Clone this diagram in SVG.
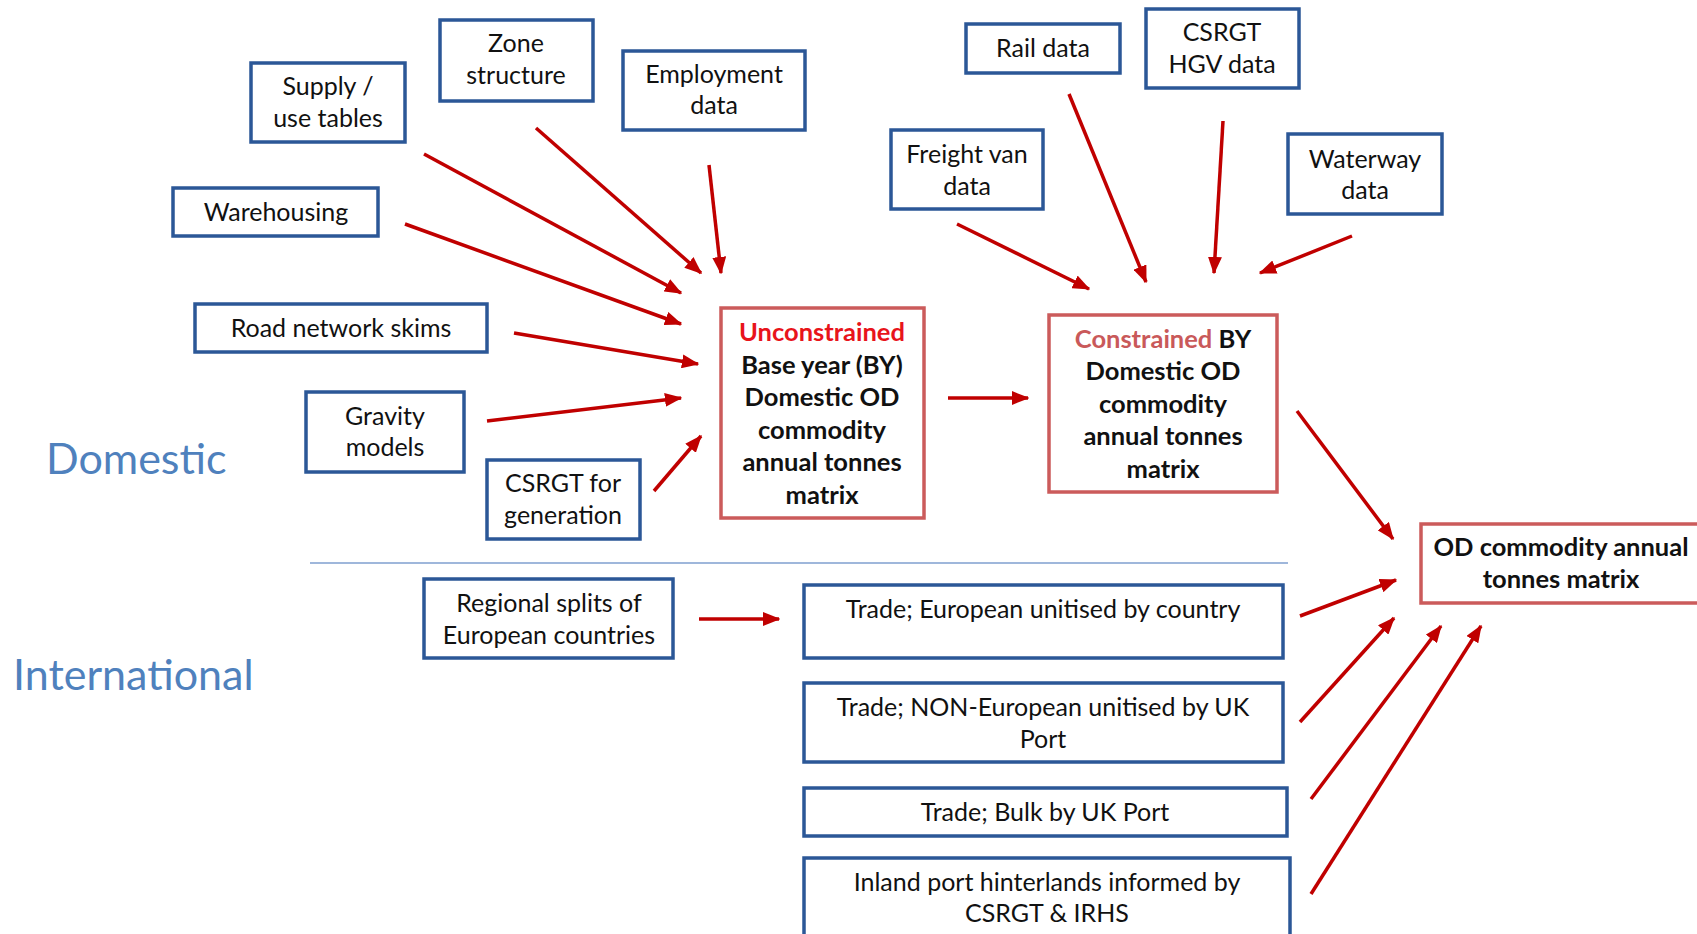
<svg xmlns="http://www.w3.org/2000/svg" width="1697" height="934" viewBox="0 0 1697 934">
<defs>
<style>
.b{fill:#fff;stroke:#2B5797;stroke-width:3.5}
.r{fill:#fff;stroke:#CB5B5B;stroke-width:3.5}
text{font-family:Lato,"Open Sans","Liberation Sans",sans-serif;font-size:25px;fill:#111;text-anchor:middle}
.bd{font-weight:bold;font-size:25.5px}
.lbl{font-size:43px;fill:#4F81BD;text-anchor:start}
.a{stroke:#C00000;stroke-width:3.5;fill:none;marker-end:url(#ah)}
</style>
<marker id="ah" viewBox="0 0 5 4" refX="4.6" refY="2" markerWidth="5" markerHeight="4" orient="auto">
<path d="M0,0 L5,2 L0,4 z" fill="#C00000"/>
</marker>
</defs>
<rect width="1697" height="934" fill="#fff"/>
<text class="lbl" x="46" y="474">Domestic</text>
<text class="lbl" x="13" y="690">International</text>
<line x1="310" y1="563" x2="1288" y2="563" stroke="#7F9FCF" stroke-width="1.5"/>
<g id="n-supply"><rect class="b" x="251" y="63" width="154" height="79"/><text x="328" y="95">Supply /</text><text x="328" y="127">use tables</text></g>
<g id="n-zone"><rect class="b" x="440" y="20" width="153" height="81"/><text x="516" y="52">Zone</text><text x="516" y="84">structure</text></g>
<g id="n-employment"><rect class="b" x="623" y="51" width="182" height="79"/><text x="714" y="83">Employment</text><text x="714" y="114">data</text></g>
<g id="n-warehousing"><rect class="b" x="173" y="188" width="205" height="48"/><text x="276" y="221">Warehousing</text></g>
<g id="n-road"><rect class="b" x="195" y="304" width="292" height="48"/><text x="341" y="337">Road network skims</text></g>
<g id="n-gravity"><rect class="b" x="306" y="392" width="158" height="80"/><text x="385" y="425">Gravity</text><text x="385" y="456">models</text></g>
<g id="n-csrgtgen"><rect class="b" x="487" y="460" width="153" height="79"/><text x="563" y="492">CSRGT for</text><text x="563" y="524">generation</text></g>
<g id="n-unconstrained"><rect class="r" x="721" y="308" width="203" height="210"/>
<text class="bd" x="822" y="341" style="fill:#E8141B">Unconstrained</text>
<text class="bd" x="822" y="374">Base year (BY)</text>
<text class="bd" x="822" y="406">Domestic OD</text>
<text class="bd" x="822" y="439">commodity</text>
<text class="bd" x="822" y="471">annual tonnes</text>
<text class="bd" x="822" y="504">matrix</text></g>
<g id="n-rail"><rect class="b" x="966" y="24" width="154" height="49"/><text x="1043" y="57">Rail data</text></g>
<g id="n-csrgthgv"><rect class="b" x="1146" y="9" width="153" height="79"/><text x="1222" y="41">CSRGT</text><text x="1222" y="73">HGV data</text></g>
<g id="n-van"><rect class="b" x="891" y="130" width="152" height="79"/><text x="967" y="163">Freight van</text><text x="967" y="195">data</text></g>
<g id="n-waterway"><rect class="b" x="1288" y="134" width="154" height="80"/><text x="1365" y="168">Waterway</text><text x="1365" y="199">data</text></g>
<g id="n-constrained"><rect class="r" x="1049" y="315" width="228" height="177"/>
<text class="bd" x="1163" y="348"><tspan style="fill:#C9595A">Constrained</tspan> BY</text>
<text class="bd" x="1163" y="380">Domestic OD</text>
<text class="bd" x="1163" y="413">commodity</text>
<text class="bd" x="1163" y="445">annual tonnes</text>
<text class="bd" x="1163" y="478">matrix</text></g>
<g id="n-od"><rect class="r" x="1421" y="524" width="290" height="79"/>
<text class="bd" x="1561" y="556">OD commodity annual</text>
<text class="bd" x="1561" y="588">tonnes matrix</text></g>
<g id="n-regional"><rect class="b" x="424" y="579" width="249" height="79"/><text x="549" y="612">Regional splits of</text><text x="549" y="644">European countries</text></g>
<g id="n-european"><rect class="b" x="804" y="585" width="479" height="73"/><text x="1043" y="618">Trade; European unitised by country</text></g>
<g id="n-noneuropean"><rect class="b" x="804" y="683" width="479" height="79"/><text x="1043" y="716">Trade; NON-European unitised by UK</text><text x="1043" y="748">Port</text></g>
<g id="n-bulk"><rect class="b" x="804" y="788" width="483" height="48"/><text x="1045" y="821">Trade; Bulk by UK Port</text></g>
<g id="n-inland"><rect class="b" x="804" y="858" width="486" height="80"/><text x="1047" y="891">Inland port hinterlands informed by</text><text x="1047" y="922">CSRGT &amp; IRHS</text></g>
<g id="connectors">
<line class="a" x1="424" y1="154" x2="681" y2="293"/>
<line class="a" x1="536" y1="128" x2="701" y2="273"/>
<line class="a" x1="709" y1="165" x2="721" y2="273"/>
<line class="a" x1="405" y1="224" x2="681" y2="324"/>
<line class="a" x1="514" y1="333" x2="698" y2="364"/>
<line class="a" x1="487" y1="421" x2="681" y2="398"/>
<line class="a" x1="654" y1="491" x2="701" y2="436"/>
<line class="a" x1="948" y1="398" x2="1028" y2="398"/>
<line class="a" x1="957" y1="224" x2="1089" y2="289"/>
<line class="a" x1="1069" y1="94" x2="1146" y2="282"/>
<line class="a" x1="1223" y1="121" x2="1214" y2="273"/>
<line class="a" x1="1352" y1="236" x2="1260" y2="273"/>
<line class="a" x1="1297" y1="411" x2="1393" y2="539"/>
<line class="a" x1="699" y1="619" x2="779" y2="619"/>
<line class="a" x1="1300" y1="616" x2="1396" y2="580"/>
<line class="a" x1="1300" y1="722" x2="1394" y2="618"/>
<line class="a" x1="1311" y1="799" x2="1441" y2="626"/>
<line class="a" x1="1311" y1="894" x2="1481" y2="626"/>
</g>
</svg>
